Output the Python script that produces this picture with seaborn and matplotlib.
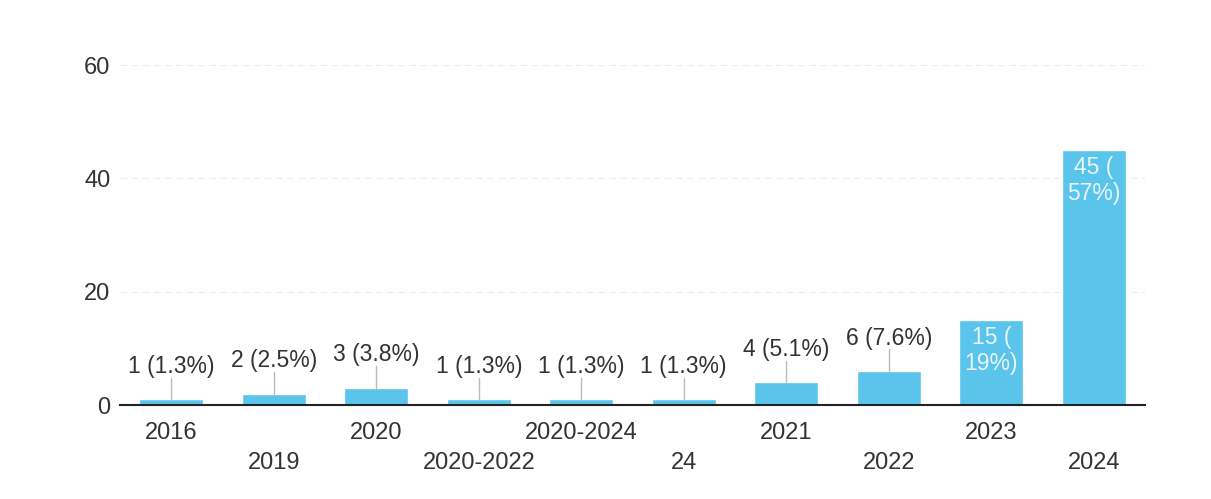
import numpy as np
import pandas as pd
import matplotlib.pyplot as plt
import seaborn as sns

# Data
years = ['2016', '2019', '2020', '2020-2022', '2020-2024', '24',
         '2021', '2022', '2023', '2024']
counts = [1, 2, 3, 1, 1, 1, 4, 6, 15, 45]
pct_labels = ['1.3%', '2.5%', '3.8%', '1.3%', '1.3%', '1.3%',
              '5.1%', '7.6%', '19%', '57%']

df = pd.DataFrame({'year': years, 'count': counts})

sns.set_style('white')
plt.rcParams['font.family'] = ['Liberation Sans', 'DejaVu Sans']

fig = plt.figure(figsize=(12.11, 4.99), dpi=100)
ax = fig.add_axes([120 / 1211, 1 - 405 / 499, 1025 / 1211, 340 / 499])

bar_color = '#5bc4ea'
sns.barplot(data=df, x='year', y='count', color=bar_color, width=0.62,
            saturation=1, ax=ax)

ax.set_ylim(0, 60)
ax.set_xlim(-0.5, len(years) - 0.5)
ax.set_yticks([0, 20, 40, 60])
ax.yaxis.grid(True, color='#ececec', linestyle=(0, (6, 4)), linewidth=0.8)
ax.set_axisbelow(True)
for side in ['top', 'right', 'left']:
    ax.spines[side].set_visible(False)
ax.spines['bottom'].set_color('#222222')
ax.spines['bottom'].set_linewidth(1.5)
ax.set_xlabel('')
ax.set_ylabel('')
ax.tick_params(axis='y', length=0, labelsize=17, labelcolor='#333333', pad=7)
ax.tick_params(axis='x', length=0, labelsize=17, labelcolor='#333333', pad=0)

# staggered x labels
ax.set_xticks(range(len(years)))
ax.set_xticklabels(years)
for i, lab in enumerate(ax.get_xticklabels()):
    lab.set_verticalalignment('center')
    lab.set_y(-28 / 340 if i % 2 == 0 else -58 / 340)

# value labels
px_per_unit = 340 / 60
for i, (c, p) in enumerate(zip(counts, pct_labels)):
    if c >= 15:
        ax.text(i, c - 1.0, f'{c} (\n{p})', ha='center', va='top',
                fontsize=16.5, color='#e8f5fb', linespacing=1.2)
    else:
        off = 33 / px_per_unit
        ax.plot([i, i], [c, c + off - 2.0], color='#bbbbbb', lw=1)
        ax.text(i, c + off, f'{c} ({p})', ha='center', va='center',
                fontsize=16.5, color='#333333')

fig.savefig('out.png', dpi=100)
